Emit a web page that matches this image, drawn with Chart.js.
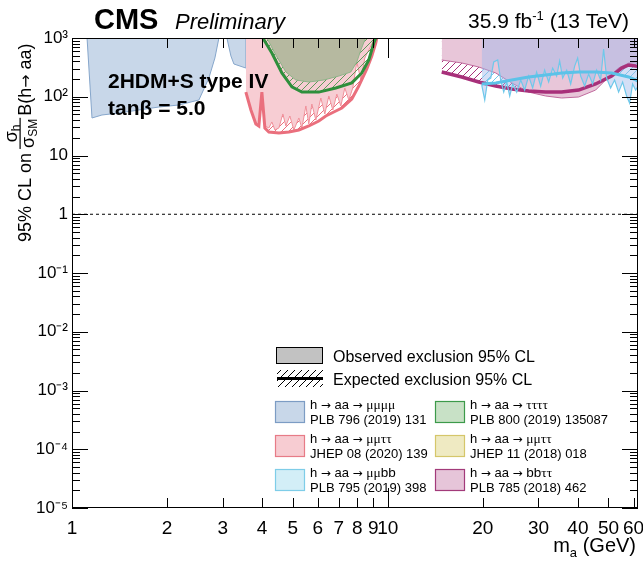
<!DOCTYPE html>
<html>
<head>
<meta charset="utf-8">
<script src="https://cdn.jsdelivr.net/npm/chart.js@4.4.1/dist/chart.umd.min.js"></script>
<style>
  html, body { margin: 0; padding: 0; background: #fff; }
  canvas { display: block; }
</style>
</head>
<body>
<canvas id="limitChart" width="643" height="562"></canvas>
<script>
// axis ticks
const xTickValues = [1, 2, 3, 4, 5, 6, 7, 8, 9, 10, 20, 30, 40, 50, 60];
const xTickLabels = ['1', '2', '3', '4', '5', '6', '7', '8', '9', '10', '20', '30', '40', '50', '60'];
const yTickValues = [1e-5, 1e-4, 1e-3, 1e-2, 1e-1, 1, 10, 100, 1000];
const yTickLabels = ['10⁻⁵', '10⁻⁴', '10⁻³', '10⁻²', '10⁻¹', '1', '10', '10²', '10³'];

// SM reference line
const smMass = [1, 62];
const smLimit = [1, 1];

// h -> aa -> mumumumu (PLB 796 (2019) 131), observed
const mmmmMass = [1.116, 1.157, 1.244, 1.408, 1.629, 1.885, 2.181, 2.523, 2.713, 2.835, 2.919, 3.094, 3.186, 3.256, 3.553, 3.553];
const mmmmObs = [1000, 43.5, 48.9, 52.9, 59.5, 66.9, 72.4, 88.1, 208, 457, 1000, 1000, 494, 361, 308, 1000];

// h -> aa -> mumutautau (JHEP 08 (2020) 139)
const mmttMass = [3.553, 3.686, 3.822, 3.906, 3.993, 4.081, 4.202, 4.295, 4.390, 4.520, 4.653, 4.756, 4.897, 5.042, 5.229, 5.345, 5.503, 5.623, 5.748, 5.918, 6.138, 6.319, 6.506, 6.698, 6.897, 7.101, 7.311, 7.526, 7.748, 7.978, 8.217, 8.459, 8.707, 9.031, 9.230];
const mmttObs = [120, 59.5, 34.4, 31.8, 107, 31.8, 29.4, 37.2, 27.2, 29.4, 50.9, 31.8, 47.0, 27.2, 43.5, 29.4, 69.6, 34.4, 75.2, 40.2, 95.2, 50.9, 103, 59.5, 111, 69.6, 141, 88.1, 141, 390, 193, 457, 625, 923, 1000];
const mmttExpMass = [3.553, 3.686, 3.822, 3.906, 3.993, 4.081, 4.202, 4.520, 4.861, 5.229, 5.623, 6.048, 6.365, 6.747, 7.152, 7.692, 8.094, 8.581, 8.900, 9.163, 9.230];
const mmttExp = [120, 59.5, 34.4, 31.8, 120, 29.4, 25.1, 24.2, 25.1, 27.2, 31.8, 38.7, 47.0, 55.0, 64.4, 91.6, 152, 297, 494, 822, 1000];

// h -> aa -> tautautautau (PLB 800 (2019) 135087)
const ttttMass = [4.141, 4.422, 4.756, 5.115, 5.623, 6.273, 6.998, 7.636, 7.978, 8.217, 8.459, 8.519];
const ttttObs = [1000, 514, 264, 193, 178, 193, 225, 264, 390, 625, 923, 1000];
const ttttExpMass = [4.022, 4.295, 4.620, 4.969, 5.345, 6.048, 6.846, 7.692, 8.273, 8.707, 9.031, 9.163];
const ttttExp = [1000, 556, 254, 147, 120, 120, 141, 172, 254, 422, 822, 1000];

// h -> aa -> bbtautau (PLB 785 (2018) 462)
const bbttMass = [14.82, 17.15, 19.41, 21.97, 24.69, 27.93, 31.62, 35.53, 40.22, 45.52, 50.05, 53.83, 57.90, 60.94, 62];
const bbttObs = [422, 376, 321, 254, 172, 120, 103, 95.2, 99, 130, 217, 308, 376, 376, 376];
const bbttExpMass = [14.82, 17.15, 19.41, 21.97, 24.69, 27.93, 31.62, 35.53, 40.22, 45.52, 51.16, 55.03, 57.90, 60.94, 62];
const bbttExp = [264, 217, 178, 152, 135, 125, 120, 120, 130, 165, 225, 308, 347, 333, 330];

// h -> aa -> mumubb (PLB 795 (2019) 398)
const mmbbMass = [19.84, 20.28, 20.73, 21.19, 21.65, 22.29, 22.78, 23.29, 23.81, 24.33, 24.87, 25.60, 26.36, 27.13, 27.93, 28.76, 29.61, 30.49, 31.39, 32.32, 33.28, 34.26, 35.02, 35.80, 36.86, 37.95, 39.07, 39.93, 40.81, 42.02, 43.26, 44.54, 45.85, 47.21, 48.25, 49.32, 50.78, 52.28, 53.83, 55.42, 57.06, 58.32, 59.61, 60.94, 62];
const mmbbObs = [158, 88.1, 193, 208, 390, 422, 193, 120, 178, 103, 165, 120, 193, 130, 225, 141, 264, 152, 285, 178, 308, 225, 406, 208, 285, 165, 333, 457, 225, 152, 244, 165, 285, 193, 650, 208, 141, 193, 120, 178, 103, 78.2, 165, 130, 150];
const mmbbExpMass = [19.84, 21.97, 24.69, 27.93, 31.62, 35.53, 40.22, 45.52, 51.16, 57.90, 60.94, 62];
const mmbbExp = [165, 172, 193, 217, 234, 254, 264, 264, 254, 217, 193, 185];

const FONT = '"Liberation Sans", Arial, Helvetica, sans-serif';
const GREEK = '"Liberation Serif", "Times New Roman", serif';
const ARROW = '"DejaVu Sans", sans-serif';

const canvas = document.getElementById('limitChart');
const ctx2d = canvas.getContext('2d');

function hatch(color) {
  const c = document.createElement('canvas');
  c.width = 7; c.height = 7;
  const g = c.getContext('2d');
  g.strokeStyle = color;
  g.lineWidth = 1;
  g.beginPath();
  g.moveTo(-1, 8); g.lineTo(8, -1);
  g.stroke();
  return ctx2d.createPattern(c, 'repeat');
}

function pts(xs, ys) {
  return xs.map((x, i) => ({ x: x, y: ys[i] }));
}

const colors = {
  mmmm: { fill: '#c8d7e9', line: '#86a6cb' },
  mmtt: { fill: '#f7cdd3', line: '#f0909a', thick: '#ea6f7d' },
  tttt: { fill: '#b6b9a0', line: '#8fb58a', thick: '#2f8f3c', hatch: '#5f9a5a' },
  bbtt: { fill: '#e8c6d9', line: '#c06a9d', thick: '#a8307a' },
  mmbb: { fill: 'rgba(160,185,235,0.45)', line: '#6fc8ea', thick: '#5cc2e8' }
};

function area(data, fill, line, lw, order) {
  return { data: data, fill: 'end', backgroundColor: fill, borderColor: line, borderWidth: lw, order: order };
}
function curve(data, line, lw, order) {
  return { data: data, fill: false, borderColor: line, borderWidth: lw, order: order };
}

const datasets = [
  { data: pts(smMass, smLimit), fill: false, borderColor: '#000', borderWidth: 1, borderDash: [3, 3], order: 1 },

  area(pts(mmmmMass, mmmmObs), colors.mmmm.fill, colors.mmmm.line, 1, 60),

  area(pts(mmttExpMass, mmttExp), hatch(colors.mmtt.thick), 'transparent', 0, 55),
  area(pts(mmttMass, mmttObs), colors.mmtt.fill, colors.mmtt.line, 1, 54),
  curve(pts(mmttExpMass, mmttExp), colors.mmtt.thick, 3, 30),

  area(pts(ttttExpMass, ttttExp), hatch(colors.tttt.hatch), 'transparent', 0, 29),
  area(pts(ttttMass, ttttObs), colors.tttt.fill, colors.tttt.line, 1, 28),
  curve(pts(ttttExpMass, ttttExp), colors.tttt.thick, 3, 20),

  area(pts(bbttExpMass, bbttExp), hatch(colors.bbtt.thick), 'transparent', 0, 45),
  area(pts(mmbbExpMass, mmbbExp), hatch(colors.mmbb.line), 'transparent', 0, 44),
  area(pts(bbttMass, bbttObs), colors.bbtt.fill, colors.bbtt.line, 1, 43),
  area(pts(mmbbMass, mmbbObs), colors.mmbb.fill, 'transparent', 0, 42),
  curve(pts(bbttExpMass, bbttExp), colors.bbtt.thick, 3.5, 15),
  curve(pts(mmbbMass, mmbbObs), colors.mmbb.line, 1.2, 14),
  curve(pts(mmbbExpMass, mmbbExp), colors.mmbb.thick, 3, 10)
];

// text made of pieces: [text, size, dy, family]
function drawPieces(ctx, pieces, x, y, align) {
  let total = 0;
  pieces.forEach(p => { ctx.font = p[1] + 'px ' + (p[3] || FONT); total += ctx.measureText(p[0]).width; });
  let cx = align === 'right' ? x - total : x;
  ctx.textAlign = 'left';
  pieces.forEach(p => {
    ctx.font = p[1] + 'px ' + (p[3] || FONT);
    ctx.fillText(p[0], cx, y + (p[2] || 0));
    cx += ctx.measureText(p[0]).width;
  });
  return total;
}

const decorPlugin = {
  id: 'decor',
  afterDraw(chart) {
    const ctx = chart.ctx;
    const a = chart.chartArea;
    const xs = chart.scales.x, ys = chart.scales.y;
    ctx.save();
    ctx.strokeStyle = '#000';
    ctx.fillStyle = '#000';
    ctx.lineWidth = 1;

    // frame
    ctx.strokeRect(a.left + 0.5, a.top + 0.5, a.right - a.left - 1, a.bottom - a.top - 1);

    // inward ticks
    ctx.beginPath();
    for (let e = -5; e <= 2; e++) {
      for (let k = 1; k <= 9; k++) {
        const v = k * Math.pow(10, e);
        const py = Math.round(ys.getPixelForValue(v)) + 0.5;
        const len = k === 1 ? 16 : 8;
        ctx.moveTo(a.left, py); ctx.lineTo(a.left + len, py);
        ctx.moveTo(a.right, py); ctx.lineTo(a.right - len, py);
      }
    }
    xTickValues.forEach(v => {
      const px = Math.round(xs.getPixelForValue(v)) + 0.5;
      const len = v === 10 ? 20 : 10;
      ctx.moveTo(px, a.bottom); ctx.lineTo(px, a.bottom - len);
      ctx.moveTo(px, a.top); ctx.lineTo(px, a.top + len);
    });
    ctx.stroke();

    // header
    ctx.textBaseline = 'alphabetic';
    ctx.font = 'bold 29px ' + FONT;
    ctx.fillText('CMS', 94, 29);
    ctx.font = 'italic 22px ' + FONT;
    ctx.fillText('Preliminary', 175, 29);
    drawPieces(ctx, [['35.9 fb', 21], ['-1', 13, -8], [' (13 TeV)', 21]], 629, 28, 'right');

    // model label
    ctx.font = 'bold 21px ' + FONT;
    ctx.fillText('2HDM+S type IV', 108, 88);
    ctx.fillText('tanβ = 5.0', 108, 115);

    // x title
    drawPieces(ctx, [['m', 20], ['a', 13, 5], [' (GeV)', 20]], 636, 552, 'right');

    // y title (rotated)
    ctx.save();
    ctx.translate(31, 242);
    ctx.rotate(-Math.PI / 2);
    ctx.font = '18px ' + FONT;
    ctx.fillText('95% CL on', 0, 0);
    let x0 = ctx.measureText('95% CL on').width + 4;
    ctx.font = '18px ' + FONT;
    const wSig = ctx.measureText('σ').width;
    ctx.font = '12px ' + FONT;
    const wH = ctx.measureText('h').width;
    const wSM = ctx.measureText('SM').width;
    const wFrac = Math.max(wSig + wH, wSig + wSM) + 2;
    drawPieces(ctx, [['σ', 18], ['h', 12, 3]], x0 + (wFrac - wSig - wH) / 2, -14);
    drawPieces(ctx, [['σ', 18], ['SM', 12, 3]], x0 + (wFrac - wSig - wSM) / 2, 3);
    ctx.fillRect(x0, -11.5, wFrac, 1.2);
    x0 += wFrac + 2;
    drawPieces(ctx, [['B(h', 18], ['→', 16, 0, ARROW], [' aa)', 18]], x0, 0);
    ctx.restore();

    // legend: observed / expected
    ctx.fillStyle = '#c2c2c2';
    ctx.fillRect(276, 347, 47, 17);
    ctx.strokeRect(276.5, 347.5, 46, 16);
    ctx.fillStyle = hatch('#000');
    ctx.fillRect(277, 370, 46, 17);
    ctx.fillStyle = '#000';
    ctx.fillRect(277, 377, 46, 3);
    ctx.font = '16px ' + FONT;
    ctx.fillText('Observed exclusion 95% CL', 333, 362);
    ctx.fillText('Expected exclusion 95% CL', 333, 385);

    const entries = [
      ['μμμμ', 'PLB 796 (2019) 131', '#c8d7e9', '#7c9cc4', 275, 401],
      ['μμττ', 'JHEP 08 (2020) 139', '#f7ccd2', '#e77b87', 275, 435],
      ['μμbb', 'PLB 795 (2019) 398', '#d3eef7', '#7ecde8', 275, 469],
      ['ττττ', 'PLB 800 (2019) 135087', '#c8e1c6', '#3c9a4a', 435, 401],
      ['μμττ', 'JHEP 11 (2018) 018', '#efeac2', '#d5c66a', 435, 435],
      ['bbττ', 'PLB 785 (2018) 462', '#e6c5d9', '#a23a7a', 435, 469]
    ];
    entries.forEach(en => {
      const bx = en[4], by = en[5];
      ctx.fillStyle = en[2];
      ctx.fillRect(bx, by, 30, 22);
      ctx.strokeStyle = en[3];
      ctx.lineWidth = 1.2;
      ctx.strokeRect(bx + 0.5, by + 0.5, 29, 21);
      ctx.fillStyle = '#000';
      const pieces = [['h ', 13], ['→', 12, 0, ARROW], [' aa ', 13], ['→', 12, 0, ARROW], [' ', 13]];
      en[0].split('').forEach(ch => pieces.push([ch, 13.5, 0, ch === 'b' ? FONT : GREEK]));
      drawPieces(ctx, pieces, bx + 35, by + 8);
      ctx.font = '13px ' + FONT;
      ctx.fillText(en[1], bx + 35, by + 23);
    });

    ctx.restore();
  }
};

new Chart(canvas, {
  type: 'line',
  data: { datasets: datasets },
  options: {
    responsive: false,
    animation: false,
    events: [],
    layout: { padding: { top: 38, right: 5, left: 0, bottom: 0 } },
    elements: { point: { radius: 0 }, line: { tension: 0 } },
    plugins: { legend: { display: false }, tooltip: { enabled: false } },
    scales: {
      x: {
        type: 'logarithmic',
        min: 1,
        max: 62,
        grid: { display: false, drawTicks: false },
        border: { display: false },
        afterFit: s => { s.height = 54; s.paddingLeft = 0; s.paddingRight = 0; },
        afterBuildTicks: s => { s.ticks = xTickValues.map(v => ({ value: v })); },
        ticks: {
          autoSkip: false,
          maxRotation: 0,
          padding: 9,
          color: '#000',
          font: { family: FONT, size: 19 },
          callback: (v, i) => xTickLabels[i]
        }
      },
      y: {
        type: 'logarithmic',
        min: 1e-5,
        max: 1e3,
        grid: { display: false, drawTicks: false },
        border: { display: false },
        afterFit: s => { s.width = 72; s.paddingTop = 0; s.paddingBottom = 0; },
        afterBuildTicks: s => { s.ticks = yTickValues.map(v => ({ value: v })); },
        ticks: {
          autoSkip: false,
          padding: 4,
          color: '#000',
          font: { family: FONT, size: 17 },
          callback: (v, i) => yTickLabels[i]
        }
      }
    }
  },
  plugins: [decorPlugin]
});
</script>
</body>
</html>
